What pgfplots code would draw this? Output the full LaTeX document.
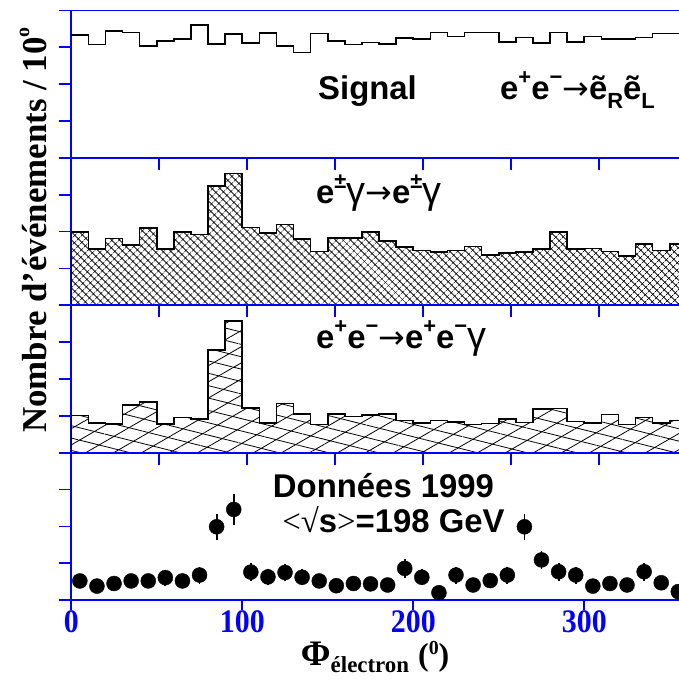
\documentclass[border=0pt]{standalone}
\usepackage{pgfplots}
\pgfplotsset{compat=1.18}
\usepackage{pgfplotstable}
\usepackage{fontspec}
\usepackage{graphicx}
\usetikzlibrary{patterns.meta}
\setmainfont{Liberation Serif}
\newfontfamily\hel{Liberation Sans}
\newfontfamily\djv{DejaVu Sans}
\newcommand\sups[1]{\raisebox{0.45em}{\fontsize{22}{22}\selectfont #1}}
\newcommand\subs[1]{\raisebox{-0.28em}{\fontsize{22}{22}\selectfont #1}}
\newcommand\arr{{\djv\mdseries\fontsize{32}{32}\selectfont→}}
\newcommand\gam{{\fontsize{38}{38}\selectfont\mdseries γ}}

\pgfplotstableread{
x   s     g     ee
0   3.33  1.99  1.01
10  3.08  1.52  0.80
20  3.44  1.81  0.78
30  3.40  1.64  1.30
40  3.04  2.09  1.37
50  3.18  1.52  0.78
60  3.23  1.99  0.95
70  3.61  1.92  0.91
80  3.09  3.23  2.78
90  3.37  3.58  3.58
100 3.12  2.11  1.21
110 3.39  1.97  0.81
120 3.03  2.19  1.34
130 2.86  1.80  1.05
140 3.38  1.46  0.76
150 3.18  1.83  1.05
160 3.08  1.83  0.98
170 3.13  1.99  1.03
180 3.09  1.75  1.05
190 3.26  1.59  0.87
200 3.22  1.49  0.80
210 3.40  1.44  0.87
220 3.29  1.49  0.83
230 3.40  1.60  0.76
240 3.40  1.37  0.79
250 3.15  1.42  0.91
260 3.27  1.44  0.82
270 3.12  1.53  1.18
280 3.40  1.99  1.20
290 3.15  1.52  0.85
300 3.29  1.54  0.80
310 3.22  1.46  1.04
320 3.22  1.34  0.76
330 3.27  1.66  0.95
340 3.38  1.49  0.80
350 3.38  1.66  0.87
360 3.38  1.66  0.87
}\hists

\pgfplotstableread{
x    y     e
5    0.52  0.20
15   0.38  0.17
25   0.45  0.19
35   0.52  0.20
45   0.52  0.20
55   0.61  0.22
65   0.52  0.20
75   0.68  0.23
85   1.99  0.36
95   2.46  0.42
105  0.76  0.24
115  0.63  0.22
125  0.75  0.24
135  0.62  0.22
145  0.52  0.20
155  0.39  0.17
165  0.45  0.19
175  0.44  0.19
185  0.41  0.18
195  0.86  0.26
205  0.62  0.22
215  0.20  0.13
225  0.68  0.23
235  0.41  0.18
245  0.53  0.20
255  0.68  0.23
265  1.99  0.36
275  1.09  0.25
285  0.77  0.24
295  0.68  0.23
305  0.38  0.17
315  0.45  0.19
325  0.41  0.18
335  0.77  0.24
345  0.47  0.19
355  0.23  0.13
}\data

\pgfplotsset{
  panel/.style={
    anchor=south west, scale only axis,
    width=607.7bp, height=147.4bp,
    xmin=0, xmax=355.4, ymin=0, ymax=4,
    axis y line*=left,
    axis line style={blue, line width=1.8bp},
    every tick/.style={blue, line width=1.8bp},
    major tick length=12bp,
    ytick={0,1,2,3,4}, yticklabels={}, ytick align=outside,
    xtick={51.43,102.86,154.29,205.71,257.14,308.57}, xticklabels={},
    xtick pos=right, xtick align=inside,
  },
  hist/.style={const plot, black, line width=1.6bp},
}

\begin{document}
\begin{tikzpicture}
\path[use as bounding box] (-71.3bp,-79.9bp) rectangle (607.7bp,600.1bp);

% panel 1: signal
\begin{axis}[panel, at={(0,442.2bp)}, xtick=\empty]
\addplot[hist] table[x=x, y=s] {\hists};
\end{axis}

% panel 2: e gamma
\begin{axis}[panel, at={(0,294.8bp)}]
\addplot[hist, pattern={Hatch[angle=45, distance=5.2bp, line width=0.6bp]}, pattern color=black]
  table[x=x, y=g] {\hists} \closedcycle;
\end{axis}

% panel 3: ee gamma
\begin{axis}[panel, at={(0,147.4bp)}]
\addplot[const plot, draw=none, pattern={Lines[angle=30, distance=14bp, line width=0.8bp]}, pattern color=black]
  table[x=x, y=ee] {\hists} \closedcycle;
\addplot[hist, pattern={Lines[angle=-14, distance=12bp, line width=0.8bp]}, pattern color=black]
  table[x=x, y=ee] {\hists} \closedcycle;
\end{axis}

% panel 4: data
\begin{axis}[panel, at={(0,0)}]
\addplot[only marks, mark=*, mark size=7.5bp, black,
  error bars/.cd, y dir=both, y explicit, error mark=none,
  error bar style={line width=1.8bp, black}]
  table[x=x, y=y, y error=e] {\data};
\end{axis}

% bottom ticks and labels
\begin{axis}[at={(0,0)}, anchor=south west, scale only axis,
  width=607.7bp, height=147.4bp,
  xmin=0, xmax=355.4, ymin=0, ymax=4,
  axis line style={draw=none}, ytick=\empty,
  xtick={0,100,200,300}, xtick pos=left, xtick align=outside,
  every tick/.style={blue, line width=1.8bp}, major tick length=10bp,
  xticklabels={\scalebox{1}[1.1]{0},\scalebox{1}[1.1]{100},\scalebox{1}[1.1]{200},\scalebox{1}[1.1]{300}},
  xticklabel style={text=blue, font=\fontsize{30}{30}\selectfont\bfseries, inner sep=0.5bp},
  xlabel={\fontsize{36}{36}\selectfont\bfseries Φ\raisebox{-0.2em}{\fontsize{23}{23}\selectfont électron}\ {\fontsize{32}{32}\selectfont(\raisebox{0.35em}{\fontsize{20}{20}\selectfont 0})}},
  xlabel style={at={(axis description cs:0.5,0)}, anchor=center, yshift=-57bp, inner sep=1bp},
]
\end{axis}

% y label
\node[rotate=90, anchor=center] at (-38bp,370bp)
  {\fontsize{35}{35}\selectfont\bfseries Nombre d’événements / 10\raisebox{0.5em}{\fontsize{20}{20}\selectfont o}};

% texts
\begin{scope}[every node/.style={inner sep=0pt, font=\hel\bfseries\fontsize{33}{33}\selectfont}]
\node[anchor=base west] at (246.7bp,500.1bp) {Signal};
\node[anchor=base west] at (428.7bp,501bp) {e\sups{+}e\sups{−}\arr ẽ\subs{R}ẽ\subs{L}};
\node[anchor=base west] at (244.7bp,397bp) {e\sups{±}\gam\arr e\sups{±}\gam};
\node[anchor=base west] at (244.7bp,252bp) {e\sups{+}e\sups{−}\arr e\sups{+}e\sups{−}\gam};
\node[anchor=base] at (312.2bp,103bp) {Données 1999};
\node[anchor=base] at (322.2bp,68bp) {{\fontsize{33}{33}\selectfont\mdseries\rmfamily<√}s{\rmfamily\mdseries >}=198 GeV};
\end{scope}
\end{tikzpicture}
\end{document}
